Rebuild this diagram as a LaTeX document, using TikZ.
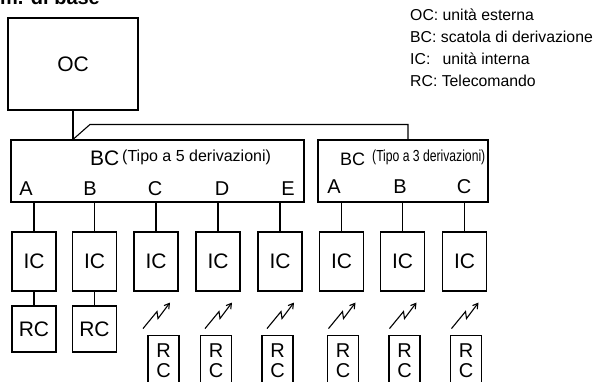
\documentclass[tikz,border=0pt]{standalone}
\usepackage{fontspec}
\setmainfont{Liberation Sans}
\usetikzlibrary{arrows.meta,positioning}

\begin{document}
\begin{tikzpicture}[
    x=1pt, y=-1pt,
    unit/.style={rectangle, draw=black, line width=1.1pt, inner sep=0pt,
                 minimum width=44pt, minimum height=59pt,
                 font=\fontsize{21}{21}\selectfont},
    remote/.style={rectangle, draw=black, line width=1.1pt, anchor=north,
                   minimum width=31pt, inner xsep=0pt, inner ysep=8pt, align=center,
                   font=\fontsize{20}{20.5}\selectfont},
    port/.style={anchor=base, inner sep=0pt, font=\fontsize{20}{20}\selectfont},
    legend/.style={anchor=base west, inner sep=0pt, font=\fontsize{15.8}{16}\selectfont},
    wire/.style={line width=1.1pt, draw=black},
    radio/.style={line width=1.1pt, draw=black, -{Straight Barb[length=5pt,width=6pt]}}
]
    \useasboundingbox (0,0) rectangle (596,381);

    % title (cut at the top)
    \node[anchor=base west, inner sep=0pt, font=\fontsize{20}{20}\selectfont\bfseries] (title) at (0,4) {m. di base};

    % legend
    \node[legend] (l1) at (410,20) {OC: unità esterna};
    \node[legend] (l2) at (410,42) {BC: scatola di derivazione};
    \node[legend] (l3) at (410,64) {IC:\hspace{0.5em} unità interna};
    \node[legend] (l4) at (410,86) {RC: Telecomando};

    % outdoor unit and branch boxes
    \node[unit, minimum width=130pt, minimum height=92pt] (oc) at (73,64) {OC};
    \node[unit, minimum width=293pt, minimum height=62pt] (bc5) at (157.5,171) {};
    \node[unit, minimum width=170pt, minimum height=62pt] (bc3) at (403,171) {};

    \node[anchor=base west, inner sep=0pt, font=\fontsize{21}{21}\selectfont] (bc5t) at (90,165) {BC};
    \node[anchor=base west, inner sep=0pt, font=\fontsize{16}{16}\selectfont] (bc5s) at (122,161) {(Tipo a 5 derivazioni)};
    \node[anchor=base west, inner sep=0pt, font=\fontsize{18}{18}\selectfont] (bc3t) at (340,165) {BC};
    \node[anchor=base west, inner sep=0pt, font=\fontsize{16}{16}\selectfont] (bc3s) at (372,161) {\scalebox{0.76}[1]{(Tipo a 3 derivazioni)}};

    \foreach \n/\x/\l in {1/26/A, 2/90/B, 3/155/C, 4/222/D, 5/288/E}
        \node[port] (p\n) at (\x,195) {\l};
    \foreach \n/\x/\l in {6/334/A, 7/400/B, 8/464/C}
        \node[port] (p\n) at (\x,193) {\l};

    % piping
    \draw[wire] (oc.south) -- (oc.south |- bc5.north);
    \draw[wire] (oc.south |- bc5.north) -- ++(17,-15) -| ([xshift=5pt]bc3.north);

    % indoor units
    \foreach \n/\x/\b in {1/34/bc5, 2/94.5/bc5, 3/156/bc5, 4/218/bc5, 5/280/bc5,
                          6/341.5/bc3, 7/402.5/bc3, 8/464.5/bc3} {
        \node[unit] (ic\n) at (\x,261.5) {IC};
        \draw[wire] (ic\n.north) -- (ic\n.north |- \b.south);
    }

    % wired remotes
    \foreach \n/\x in {1/34, 2/94.5} {
        \node[unit, minimum height=46pt] (rc\n) at (\x,329) {RC};
        \draw[wire] (ic\n.south) -- (rc\n.north);
    }

    % wireless remotes
    \foreach \n/\x in {3/163.5, 4/216, 5/277.5, 6/343, 7/404.5, 8/466} {
        \node[remote] (rc\n) at (\x,335) {R\\C};
        \draw[radio] ([shift={(-13,37)}]ic\n.south) -- ++(14,-17) -- ++(1,7) -- ++(12,-16);
    }
\end{tikzpicture}
\end{document}
